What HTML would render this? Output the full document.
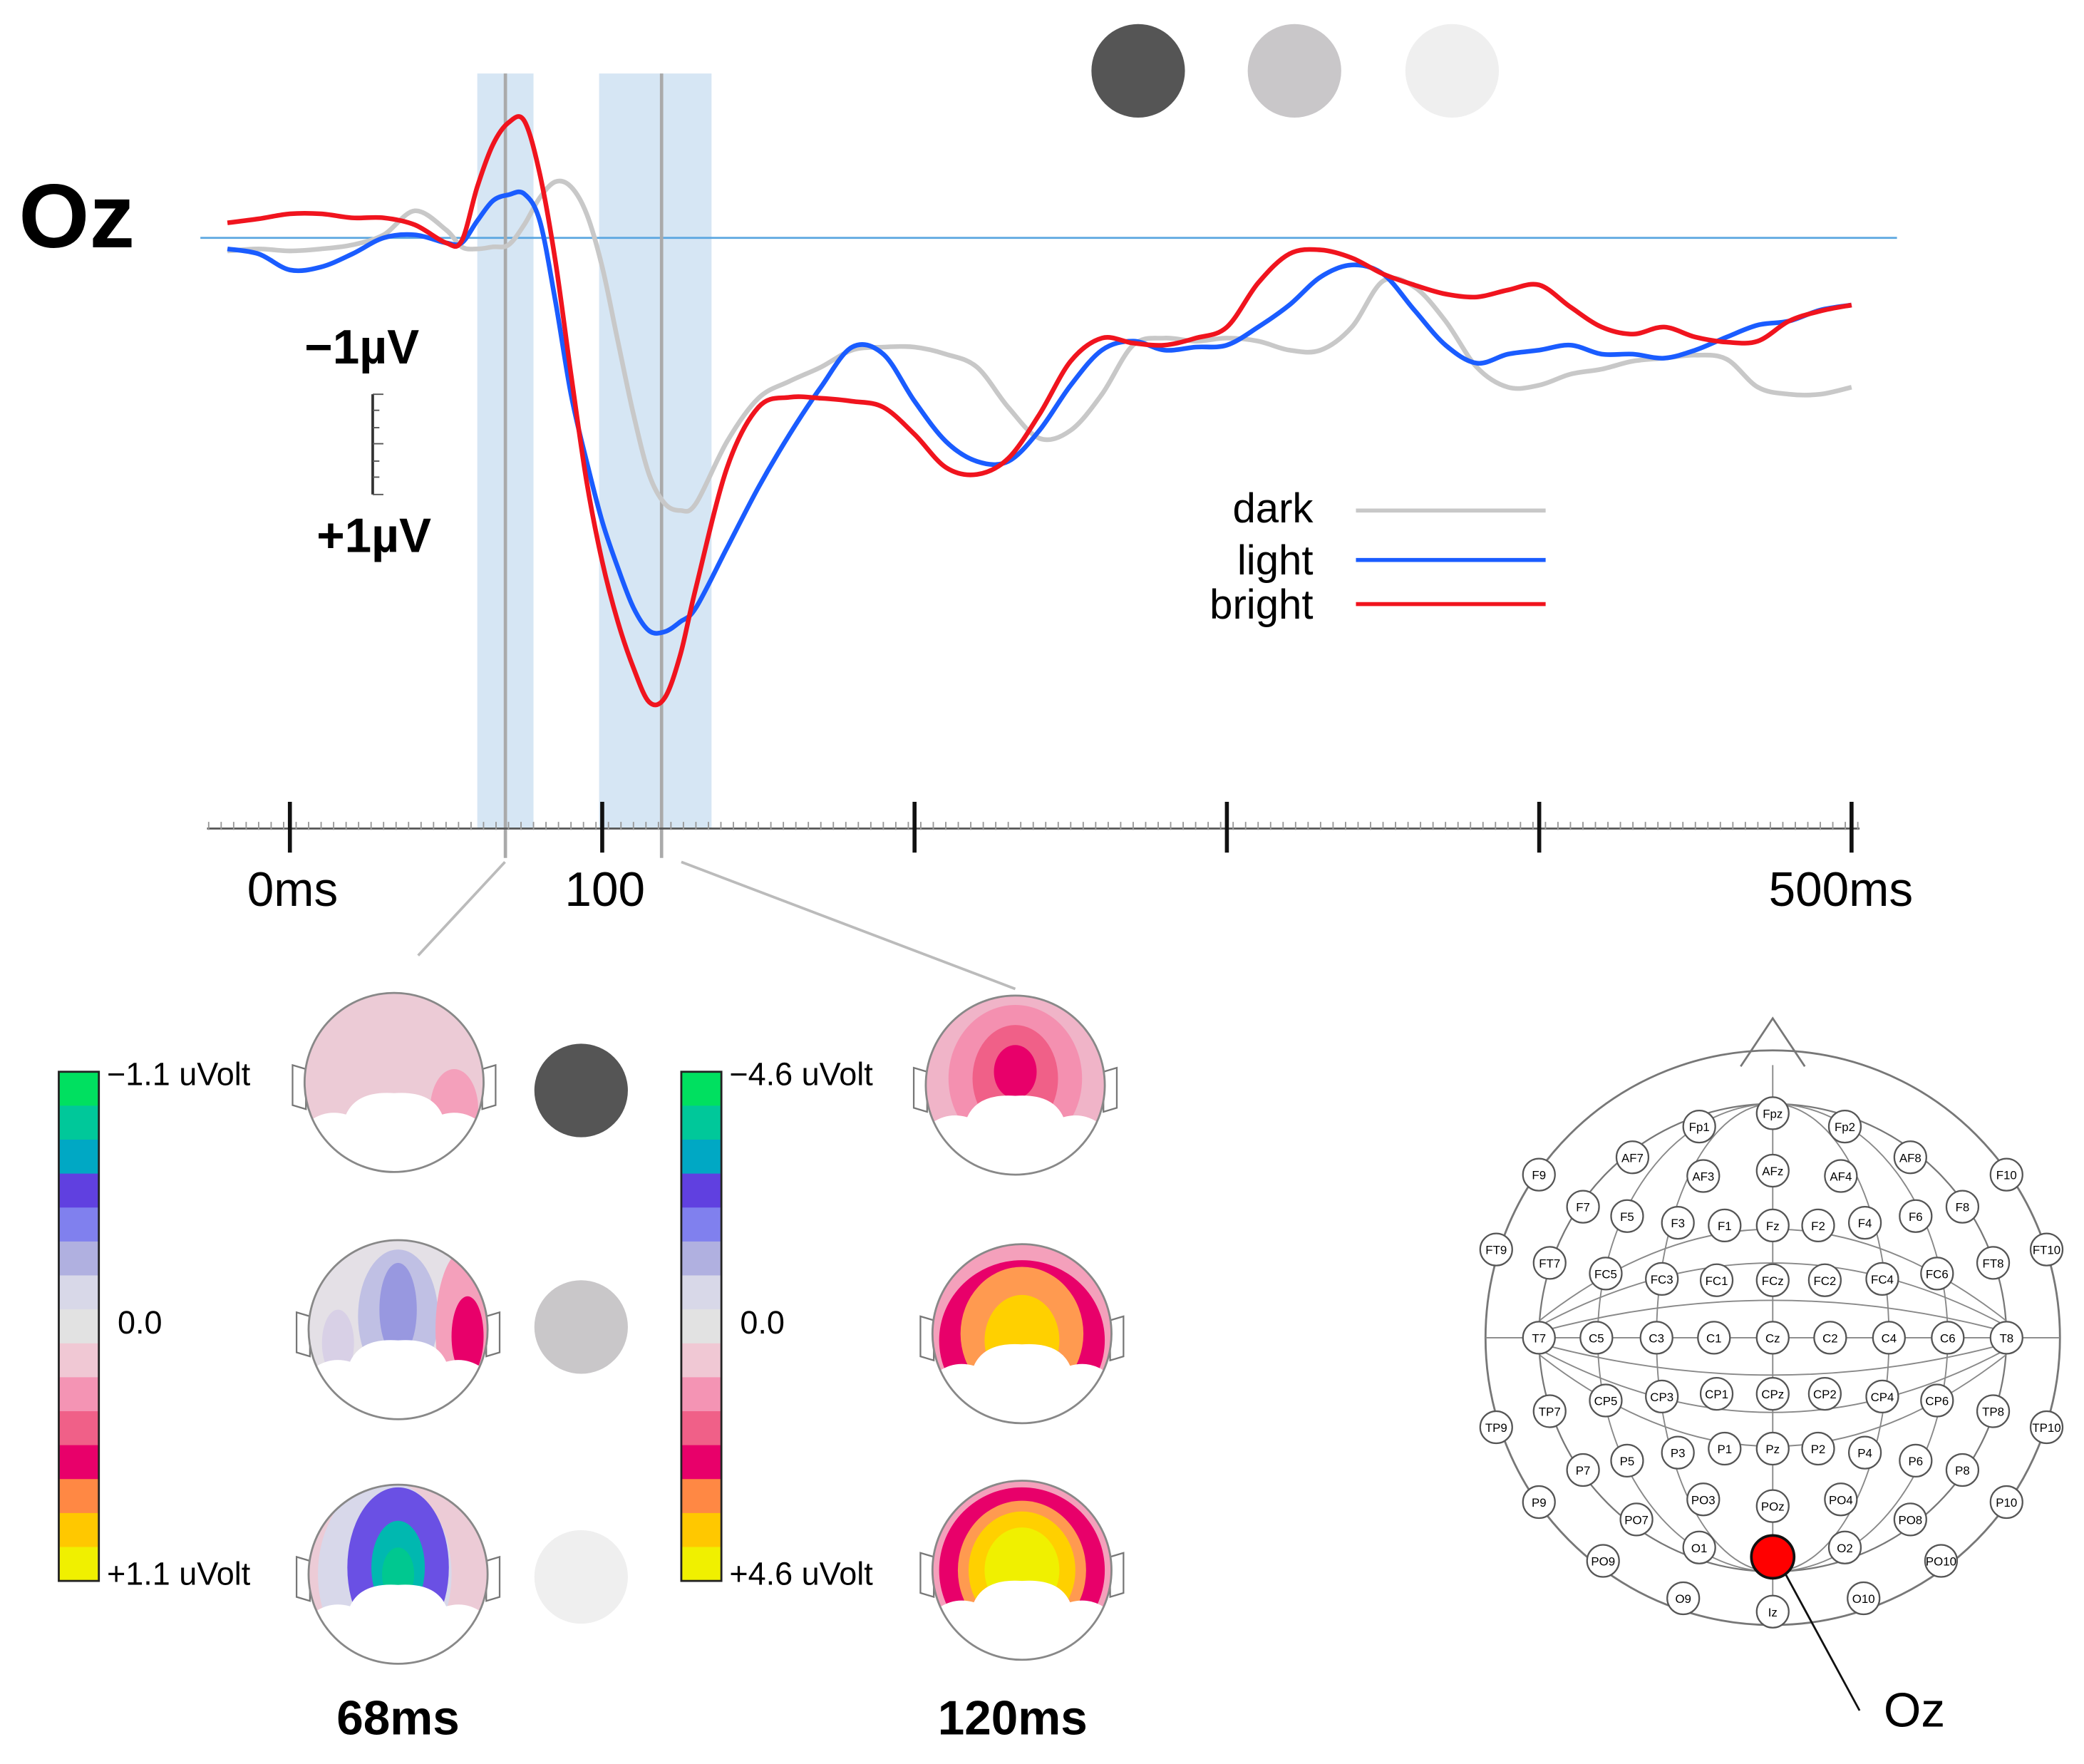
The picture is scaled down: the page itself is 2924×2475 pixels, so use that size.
<!DOCTYPE html>
<html><head><meta charset="utf-8"><style>
html,body{margin:0;padding:0;background:#fff;}
svg{display:block;font-family:"Liberation Sans",Calibri,sans-serif;}
</style></head><body>
<svg id="fig" width="2924" height="2475" viewBox="0 0 1560 1320" preserveAspectRatio="none" xmlns="http://www.w3.org/2000/svg">
<g id="stim">
<circle cx="852" cy="53" r="35" fill="#555"/>
<circle cx="969" cy="53" r="35" fill="#c9c7c9"/>
<circle cx="1087" cy="53" r="35" fill="#efefef"/>
</g>
<text x="14" y="185" font-size="68" font-weight="bold">Oz</text>
<g id="bands"></g>
<g id="axis"></g>
<g id="series"></g>
<g>
<text x="228" y="272" font-size="36" font-weight="bold">−1µV</text>
<line x1="279" y1="295" x2="279" y2="370" stroke="#333" stroke-width="2"/>
<path d="M279 295h8M279 307h5M279 320h5M279 332h8M279 345h5M279 357h5M279 370h8" stroke="#555" stroke-width="1"/>
<text x="237" y="413" font-size="36" font-weight="bold">+1µV</text>
</g>
<g font-size="31">
<text x="983" y="391" text-anchor="end">dark</text>
<line x1="1015" y1="382" x2="1157" y2="382" stroke="#c8c8c8" stroke-width="3"/>
<text x="983" y="430" text-anchor="end">light</text>
<line x1="1015" y1="419" x2="1157" y2="419" stroke="#1a5cff" stroke-width="3"/>
<text x="983" y="463" text-anchor="end">bright</text>
<line x1="1015" y1="452" x2="1157" y2="452" stroke="#f0141e" stroke-width="3"/>
</g>
<g stroke="#bbb" stroke-width="2">
<line x1="378" y1="645" x2="313" y2="715"/><line x1="510" y1="645" x2="760" y2="740"/>
</g>
<g id="topos"></g>
<text x="298" y="1298" font-size="36" font-weight="bold" text-anchor="middle">68ms</text>
<text x="758" y="1298" font-size="36" font-weight="bold" text-anchor="middle">120ms</text>
<g id="cap"></g>
</svg>
<script>
// ---- data ----
const times=[-20,-10,0,10,20,30,40,50,55,60,65,70,75,80,85,90,95,100,105,110,115,120,125,130,140,150,160,170,180,190,200,210,220,230,240,250,260,270,280,290,300,310,320,330,340,350,360,370,380,390,400,410,420,430,440,450,460,470,480,490,500];
const brightVals=[-0.15,-0.19,-0.24,-0.24,-0.2,-0.2,-0.13,0.05,0.03,-0.51,-0.93,-1.15,-1.17,-0.64,0.23,1.36,2.43,3.23,3.83,4.29,4.63,4.59,4.16,3.49,2.29,1.69,1.59,1.6,1.63,1.69,1.96,2.29,2.36,2.2,1.76,1.23,1.0,1.05,1.07,1.0,0.89,0.45,0.16,0.12,0.2,0.36,0.47,0.56,0.59,0.52,0.47,0.69,0.89,0.96,0.89,0.99,1.04,1.03,0.83,0.73,0.67];
const lightVals=[0.11,0.16,0.32,0.29,0.16,0,-0.03,0.05,0.05,-0.17,-0.37,-0.43,-0.44,-0.17,0.63,1.56,2.23,2.83,3.29,3.69,3.92,3.93,3.83,3.69,3.09,2.49,1.96,1.49,1.09,1.16,1.63,2.03,2.23,2.23,1.92,1.47,1.12,1.03,1.12,1.09,1.07,0.89,0.67,0.39,0.27,0.36,0.72,1.07,1.25,1.16,1.12,1.07,1.16,1.16,1.2,1.12,0.99,0.87,0.83,0.72,0.67];
const darkVals=[0.13,0.11,0.13,0.11,0.07,-0.03,-0.27,-0.08,0.09,0.11,0.09,0.07,-0.13,-0.4,-0.56,-0.51,-0.24,0.29,1.03,1.76,2.36,2.65,2.72,2.65,2.03,1.6,1.43,1.29,1.12,1.09,1.09,1.16,1.29,1.69,2.0,1.92,1.56,1.07,1.0,1.03,1.0,1.03,1.12,1.12,0.89,0.43,0.49,0.83,1.29,1.49,1.47,1.36,1.31,1.23,1.2,1.17,1.21,1.49,1.56,1.56,1.49];
const majorTicks=[0,100,200,300,400,500];
const tickLabels=["0ms","100","","","","500ms"];
const windows=[[60,78],[99,135]];
const markers=[69,119];
// ---- scales ----
const X=t=>217+2.338*t, Y=v=>178+75*v;
const NS="http://www.w3.org/2000/svg";
function mk(tag,attrs,parent){const e=document.createElementNS(NS,tag);for(const k in attrs)e.setAttribute(k,attrs[k]);parent.appendChild(e);return e;}
const bands=document.getElementById('bands');
windows.forEach((w,i)=>{const r=mk('rect',{x:X(w[0]),y:55,width:X(w[1])-X(w[0]),height:565,fill:'#d6e6f4'},bands);

});
mk('line',{x1:150,y1:178,x2:1420,y2:178,stroke:'#5aa6e0','stroke-width':1.5},bands);
markers.forEach((m,i)=>{const l=mk('line',{x1:X(m),y1:55,x2:X(m),y2:642,stroke:'#aaa','stroke-width':2.5},bands);

});
const ax=document.getElementById('axis');
mk('line',{x1:155,y1:620,x2:1392,y2:620,stroke:'#555','stroke-width':1.5},ax);
for(let t=-26;t<=502;t+=4){mk('line',{x1:X(t),y1:615,x2:X(t),y2:621,stroke:'#999','stroke-width':1},ax);}
majorTicks.forEach((t,i)=>{const l=mk('line',{x1:X(t),y1:600,x2:X(t),y2:638,stroke:'#111','stroke-width':3},ax);


if(tickLabels[i]){const tx=mk('text',{x:X(t)+(i==5?-8:2),y:678,'font-size':36,'text-anchor':'middle'},ax);tx.textContent=tickLabels[i];

}});
function smooth(vals){const p=times.map((t,i)=>[X(t),Y(vals[i])]);let d='M'+p[0][0]+' '+p[0][1];
for(let i=0;i<p.length-1;i++){const p0=p[i-1]||p[i],p1=p[i],p2=p[i+1],p3=p[i+2]||p2;
d+=` C${p1[0]+(p2[0]-p0[0])/6} ${p1[1]+(p2[1]-p0[1])/6} ${p2[0]-(p3[0]-p1[0])/6} ${p2[1]-(p3[1]-p1[1])/6} ${p2[0]} ${p2[1]}`;}return d;}
const sg=document.getElementById('series');
[[darkVals,'#c8c8c8','dark'],[lightVals,'#1a5cff','light'],[brightVals,'#f0141e','bright']].forEach(s=>{
const p=mk('path',{d:smooth(s[0]),fill:'none',stroke:s[1],'stroke-width':3.5,'stroke-linejoin':'round'},sg);

});
// ---- colorbars & topomaps ----
const cols=['#00e060','#00c89a','#00a8c4','#6040e0','#8080ee','#b0b0e0','#d8d8e8','#e2e2e2','#f0c8d4','#f494b4','#f06088','#e8006a','#ff8844','#ffc800','#f0f000'];
const tp=document.getElementById('topos');
function cbar(x,lab){const h=381/15;cols.forEach((c,i)=>mk('rect',{x:x,y:802+i*h,width:30,height:h+0.5,fill:c},tp));
mk('rect',{x:x,y:802,width:30,height:381,fill:'none',stroke:'#222','stroke-width':1.5},tp);
[['−'+lab+' uVolt',812],['0.0',998],['+'+lab+' uVolt',1186]].forEach((a,i)=>{const t=mk('text',{x:i==1?x+44:x+36,y:a[1],'font-size':24},tp);t.textContent=a[0];

});}
cbar(44,'1.1');cbar(510,'4.6');
let cid=0;
function head(cx,cy,layers){cid++;const g=mk('g',{},tp);


const cp=mk('clipPath',{id:'c'+cid},g);mk('circle',{cx:cx,cy:cy,r:67},cp);
mk('path',{d:`M${cx-66} ${cy-10}l-10 -3v30l10 3zM${cx+66} ${cy-10}l10 -3v30l-10 3z`,fill:'#fff',stroke:'#777','stroke-width':1.2},g);
const inner=mk('g',{'clip-path':`url(#c${cid})`},g);
layers.forEach(l=>mk('ellipse',{cx:cx+l[0],cy:cy+l[1],rx:l[2],ry:l[3],fill:l[4]},inner));
mk('path',{d:`M${cx-80} ${cy+80}L${cx-62} ${cy+28}Q${cx-50} ${cy+20} ${cx-36} ${cy+24}Q${cx-28} ${cy+6} ${cx} ${cy+8}Q${cx+28} ${cy+6} ${cx+36} ${cy+24}Q${cx+50} ${cy+20} ${cx+62} ${cy+28}L${cx+80} ${cy+80}z`,fill:'#fff'},inner);
mk('circle',{cx:cx,cy:cy,r:67,fill:'none',stroke:'#888','stroke-width':1.5},g);}
head(295,810,[[0,0,80,80,'#eccbd6'],[45,20,18,30,'#f4a0bb']]);
head(298,995,[[0,0,80,80,'#e4e0e6'],[-45,10,12,25,'#d8d0e6'],[0,-10,30,50,'#c0c0e4'],[0,-15,14,35,'#9898e0'],[50,0,22,60,'#f4a0bb'],[52,5,12,30,'#e8006a']]);
head(298,1178,[[0,0,80,80,'#eccbd6'],[-10,0,50,70,'#d8d8ea'],[0,-5,38,60,'#6a50e4'],[0,-5,20,35,'#00b8b0'],[0,0,12,20,'#00c890']]);
head(760,812,[[0,0,80,80,'#f0b4c8'],[0,-5,50,55,'#f490b0'],[0,-5,32,40,'#f06088'],[0,-10,16,20,'#e8006a']]);
head(765,998,[[0,0,80,80,'#f4a0bb'],[0,5,62,60,'#e8006a'],[0,0,46,50,'#ff9a50'],[0,5,28,34,'#ffd000']]);
head(765,1175,[[0,0,80,80,'#f4a0bb'],[0,0,62,62,'#e8006a'],[0,0,48,52,'#ff9a50'],[0,0,40,44,'#ffd000'],[0,0,28,32,'#f0f000']]);
[[816,'#555'],[993,'#c9c7c9'],[1180,'#efefef']].forEach((c,i)=>{const e=mk('circle',{cx:435,cy:c[0],r:35,fill:c[1]},tp);

});
// ---- electrode map ----
const cap=document.getElementById('cap');
const cx0=1327,cy0=1001;
mk('path',{d:'M1303 798L1327 762L1351 798',fill:'#fff',stroke:'#777','stroke-width':1.5},cap);
mk('circle',{cx:cx0,cy:cy0,r:215,fill:'none',stroke:'#777','stroke-width':1.5},cap);
mk('circle',{cx:cx0,cy:cy0,r:175,fill:'none',stroke:'#777','stroke-width':1.2},cap);
[87,131].forEach(r=>mk('ellipse',{cx:cx0,cy:cy0,rx:r,ry:175,fill:'none',stroke:'#888','stroke-width':1},cap));
[43,86,125].forEach(d=>{mk('path',{d:`M1152 ${cy0-d*0.1}Q${cx0} ${cy0-d*1.2} 1502 ${cy0-d*0.1}M1152 ${cy0+d*0.1}Q${cx0} ${cy0+d*1.2} 1502 ${cy0+d*0.1}`,fill:'none',stroke:'#888','stroke-width':1},cap);});
mk('line',{x1:cx0,y1:797,x2:cx0,y2:1215,stroke:'#888','stroke-width':1},cap);
mk('line',{x1:1112,y1:cy0,x2:1542,y2:cy0,stroke:'#888','stroke-width':1},cap);
const el=[['Fp1',1272,843],['Fpz',1327,833],['Fp2',1381,843],['AF7',1222,866],['AF3',1275,880],['AFz',1327,876],['AF4',1378,880],['AF8',1430,866],
['F9',1152,879],['F7',1185,903],['F5',1218,910],['F3',1256,915],['F1',1291,917],['Fz',1327,917],['F2',1361,917],['F4',1396,915],['F6',1434,910],['F8',1469,903],['F10',1502,879],
['FT9',1120,935],['FT7',1160,945],['FC5',1202,953],['FC3',1244,957],['FC1',1285,958],['FCz',1327,958],['FC2',1366,958],['FC4',1409,957],['FC6',1450,953],['FT8',1492,945],['FT10',1532,935],
['T7',1152,1001],['C5',1195,1001],['C3',1240,1001],['C1',1283,1001],['Cz',1327,1001],['C2',1370,1001],['C4',1414,1001],['C6',1458,1001],['T8',1502,1001],
['TP9',1120,1068],['TP7',1160,1056],['CP5',1202,1048],['CP3',1244,1045],['CP1',1285,1043],['CPz',1327,1043],['CP2',1366,1043],['CP4',1409,1045],['CP6',1450,1048],['TP8',1492,1056],['TP10',1532,1068],
['P9',1152,1124],['P7',1185,1100],['P5',1218,1093],['P3',1256,1087],['P1',1291,1084],['Pz',1327,1084],['P2',1361,1084],['P4',1396,1087],['P6',1434,1093],['P8',1469,1100],['P10',1502,1124],
['PO9',1200,1168],['PO7',1225,1137],['PO3',1275,1122],['POz',1327,1127],['PO4',1378,1122],['PO8',1430,1137],['PO10',1453,1168],
['O9',1260,1196],['O1',1272,1158],['O2',1381,1158],['O10',1395,1196],['Iz',1327,1206]];
el.forEach(e=>{const g=mk('g',{},cap);


mk('circle',{cx:e[1],cy:e[2],r:12,fill:'#fff',stroke:'#555','stroke-width':1.2},g);
const t=mk('text',{x:e[1],y:e[2]+3.5,'font-size':9,'text-anchor':'middle'},g);t.textContent=e[0];});
mk('line',{x1:1335,y1:1175,x2:1392,y2:1280,stroke:'#111','stroke-width':1.5},cap);
const oz=mk('circle',{cx:1327,cy:1165,r:16,fill:'#f00',stroke:'#111','stroke-width':2},cap);


const ozt=mk('text',{x:1410,y:1292,'font-size':36},cap);ozt.textContent='Oz';


</script>
</body></html>
